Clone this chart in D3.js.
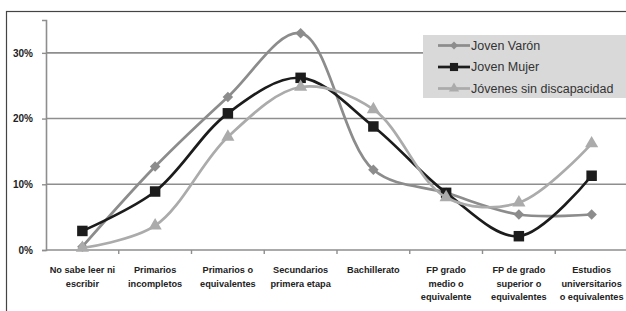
<!DOCTYPE html>
<html>
<head>
<meta charset="utf-8">
<script src="https://cdn.jsdelivr.net/npm/d3@7"></script>
<style>
  body { margin: 0; background: #fff; }
  svg { display: block; }
</style>
</head>
<body>
<div id="chart"></div>
<script>
// Nivel de estudios
const categories = [
    ['No sabe leer ni', 'escribir'],
    ['Primarios', 'incompletos'],
    ['Primarios o', 'equivalentes'],
    ['Secundarios', 'primera etapa'],
    ['Bachillerato'],
    ['FP grado', 'medio o', 'equivalente'],
    ['FP de grado', 'superior o', 'equivalentes'],
    ['Estudios', 'universitarios', 'o equivalentes']
];

const varon = [0.5, 12.7, 23.3, 33.0, 12.2, 8.7, 5.4, 5.4];
const mujer = [2.9, 8.9, 20.8, 26.2, 18.8, 8.7, 2.1, 11.3];
const sinDiscapacidad = [0.3, 3.7, 17.2, 24.8, 21.4, 8.0, 7.2, 16.2];

const yTicks = [0, 10, 20, 30];

const seriesNames = ['Joven Varón', 'Joven Mujer', 'Jóvenes sin discapacidad'];

const width = 626;
const height = 311;
const margin = { top: 20, right: -2, bottom: 61, left: 46 };

const svg = d3.select('#chart')
    .append('svg')
    .attr('width', width)
    .attr('height', height);

// outer frame (runs off the right and bottom edges like the original)
svg.append('rect')
    .attr('x', 6.5)
    .attr('y', 11.5)
    .attr('width', 700)
    .attr('height', 400)
    .attr('fill', '#fff')
    .attr('stroke', '#444')
    .attr('stroke-width', 1.2);

const x = d3.scaleBand()
    .domain(d3.range(categories.length))
    .range([margin.left, width - margin.right]);

const y = d3.scaleLinear()
    .domain([0, 35])
    .range([height - margin.bottom, margin.top]);

const fontFamily = '"Liberation Sans", Arial, sans-serif';

// gridlines
svg.append('g')
    .selectAll('line')
    .data(yTicks.filter(d => d > 0))
    .join('line')
    .attr('x1', margin.left)
    .attr('x2', width)
    .attr('y1', d => y(d))
    .attr('y2', d => y(d))
    .attr('stroke', '#8e8e8e')
    .attr('stroke-width', 1.6);

// y axis
const yAxis = svg.append('g')
    .attr('transform', `translate(${margin.left},0)`)
    .call(d3.axisLeft(y).tickValues(yTicks).tickSize(4).tickFormat(d => d + '%'));
yAxis.select('.domain').attr('stroke', '#8e8e8e').attr('stroke-width', 1.6);
yAxis.selectAll('.tick line').attr('stroke', '#8e8e8e').attr('stroke-width', 1.4);
yAxis.selectAll('.tick text')
    .attr('x', -13)
    .attr('fill', '#222')
    .style('font-family', fontFamily)
    .style('font-weight', 'bold')
    .style('font-size', '10px');

// x axis
const xAxisY = y(0);
svg.append('line')
    .attr('x1', margin.left)
    .attr('x2', width)
    .attr('y1', xAxisY)
    .attr('y2', xAxisY)
    .attr('stroke', '#8e8e8e')
    .attr('stroke-width', 1.6);

svg.append('g')
    .selectAll('line')
    .data(d3.range(1, categories.length + 1))
    .join('line')
    .attr('x1', d => margin.left + d * x.step())
    .attr('x2', d => margin.left + d * x.step())
    .attr('y1', xAxisY)
    .attr('y2', xAxisY + 4)
    .attr('stroke', '#8e8e8e')
    .attr('stroke-width', 1.4);

const labels = svg.append('g')
    .selectAll('text')
    .data(categories)
    .join('text')
    .attr('text-anchor', 'middle')
    .attr('fill', '#222')
    .style('font-family', fontFamily)
    .style('font-weight', 'bold')
    .style('font-size', '9.2px');

labels.each(function(lines, i) {
    const cx = x(i) + x.bandwidth() / 2;
    d3.select(this).selectAll('tspan')
        .data(lines)
        .join('tspan')
        .attr('x', cx)
        .attr('y', (d, j) => xAxisY + 23 + j * 13.5)
        .text(d => d);
});

// series
const series = [
    { name: seriesNames[0], values: varon, color: '#8c8c8c', marker: 'diamond' },
    { name: seriesNames[1], values: mujer, color: '#1c1c1c', marker: 'square' },
    { name: seriesNames[2], values: sinDiscapacidad, color: '#ababab', marker: 'triangle' }
];

const line = d3.line()
    .x((d, i) => x(i) + x.bandwidth() / 2)
    .y(d => y(d))
    .curve(d3.curveCatmullRom.alpha(0.5));

function markerPath(type, size) {
    const symbolType = {
        diamond: d3.symbolDiamond2,
        square: d3.symbolSquare,
        triangle: d3.symbolTriangle
    }[type];
    return d3.symbol().type(symbolType).size(size)();
}

const markerSize = { diamond: 70, square: 110, triangle: 75 };

series.forEach(s => {
    const g = svg.append('g');
    g.append('path')
        .datum(s.values)
        .attr('d', line)
        .attr('fill', 'none')
        .attr('stroke', s.color)
        .attr('stroke-width', 2.7);

    g.selectAll('path.mark')
        .data(s.values)
        .join('path')
        .attr('class', 'mark')
        .attr('transform', (d, i) => `translate(${x(i) + x.bandwidth() / 2},${y(d)})`)
        .attr('d', markerPath(s.marker, markerSize[s.marker]))
        .attr('fill', s.color);
});

// legend
const legend = svg.append('g')
    .attr('transform', 'translate(423,35)');

legend.append('rect')
    .attr('width', 204)
    .attr('height', 63)
    .attr('fill', '#d9d9d9');

series.forEach((s, i) => {
    const ly = 10.5 + i * 21.5;
    legend.append('line')
        .attr('x1', 15)
        .attr('x2', 47)
        .attr('y1', ly)
        .attr('y2', ly)
        .attr('stroke', s.color)
        .attr('stroke-width', 2.7);
    legend.append('path')
        .attr('transform', `translate(31,${ly})`)
        .attr('d', markerPath(s.marker, markerSize[s.marker] * 0.6))
        .attr('fill', s.color);
    legend.append('text')
        .attr('x', 48)
        .attr('y', ly)
        .attr('dy', '0.35em')
        .attr('fill', '#333')
        .style('font-family', fontFamily)
        .style('font-size', '12.5px')
        .text(s.name);
});
</script>
</body>
</html>
